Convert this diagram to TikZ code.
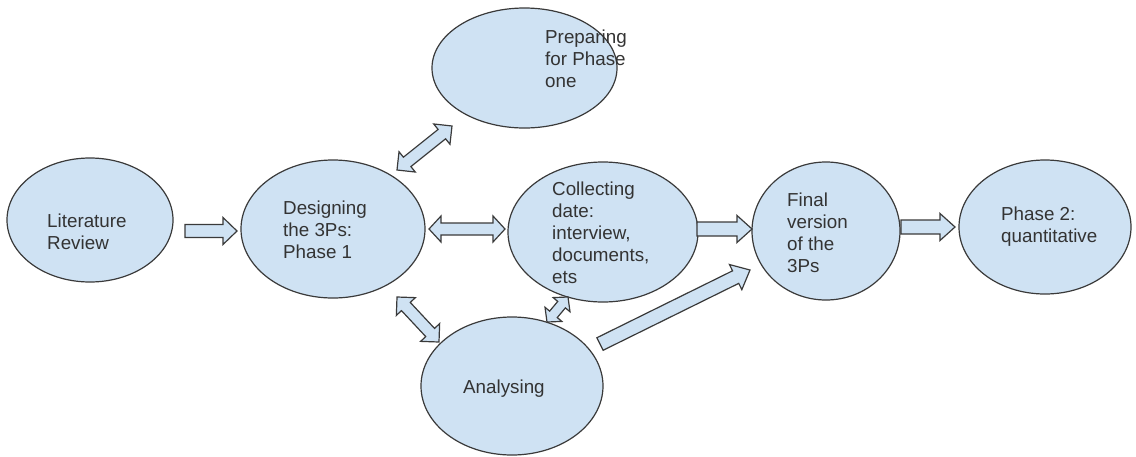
\documentclass[tikz,border=0pt]{standalone}
\usepackage{fontspec}
\setmainfont{Liberation Sans}
\usetikzlibrary{shapes.geometric,calc}
\definecolor{bubblefill}{HTML}{CFE2F3}
\definecolor{edgecol}{HTML}{3A3A3A}
\definecolor{inkcol}{HTML}{333333}
\tikzset{
  bubble/.style={ellipse, draw=edgecol, fill=bubblefill, line width=1.2pt, inner sep=0pt},
  bubbletext/.style={anchor=base west, align=left, inner sep=0pt, text=inkcol,
    font=\fontsize{18.8}{22}\selectfont},
  blockarrow/.style={draw=edgecol, fill=bubblefill, line width=1.2pt, line join=miter},
}
% single block arrow: from, to, shaft half width, head half width, head length
\newcommand\onearrow[5]{%
  \coordinate (hb) at ($(#2)!#5!(#1)$);
  \draw[blockarrow] ($(#1)!#3!90:(#2)$) -- ($(hb)!#3!90:(#2)$) -- ($(hb)!#4!90:(#2)$)
    -- (#2) -- ($(hb)!#4!-90:(#2)$) -- ($(hb)!#3!-90:(#2)$) -- ($(#1)!#3!-90:(#2)$) -- cycle;
}
% double block arrow
\newcommand\twoarrow[5]{%
  \coordinate (hba) at ($(#1)!#5!(#2)$);
  \coordinate (hbb) at ($(#2)!#5!(#1)$);
  \draw[blockarrow] (#1) -- ($(hba)!#4!90:(#2)$) -- ($(hba)!#3!90:(#2)$)
    -- ($(hbb)!#3!90:(#2)$) -- ($(hbb)!#4!90:(#2)$) -- (#2)
    -- ($(hbb)!#4!-90:(#2)$) -- ($(hbb)!#3!-90:(#2)$)
    -- ($(hba)!#3!-90:(#2)$) -- ($(hba)!#4!-90:(#2)$) -- cycle;
}
\begin{document}
\begin{tikzpicture}[x=1pt,y=-1pt]
\useasboundingbox (0,0) rectangle (1136,456);

% bubbles
\node[bubble, minimum width=166pt, minimum height=124pt] (lit)  at (90,220) {};
\node[bubble, minimum width=184pt, minimum height=138pt] (des)  at (333,229) {};
\node[bubble, minimum width=185pt, minimum height=120pt] (prep) at (524.5,68) {};
\node[bubble, minimum width=190pt, minimum height=140pt] (col)  at (603,232) {};
\node[bubble, minimum width=148pt, minimum height=138pt] (fin)  at (826,231) {};
\node[bubble, minimum width=172pt, minimum height=134pt] (ph2)  at (1045,227) {};
\node[bubble, minimum width=182pt, minimum height=138pt] (ana)  at (512,386) {};

% texts (anchored at the baseline of their last line)
\node[bubbletext] (littxt)  at (47,249)  {Literature\\Review};
\node[bubbletext] (destxt)  at (283,258) {Designing\\the 3Ps:\\Phase 1};
\node[bubbletext] (preptxt) at (545,87)  {Preparing\\for Phase\\one};
\node[bubbletext] (coltxt)  at (552,283) {Collecting\\date:\\interview,\\documents,\\ets};
\node[bubbletext] (fintxt)  at (787,272) {Final\\version\\of the\\3Ps};
\node[bubbletext] (ph2txt)  at (1001,242) {Phase 2:\\quantitative};
\node[bubbletext] (anatxt)  at (463,393) {Analysing};

% arrow end points
\coordinate (a1s) at (185,231);  \coordinate (a1e) at (237,231);
\coordinate (a2s) at (429,229);  \coordinate (a2e) at (505,229);
\coordinate (a3s) at (697,229);  \coordinate (a3e) at (752,229);
\coordinate (a4s) at (901,227);  \coordinate (a4e) at (955,227);
\coordinate (a5s) at (397,170);  \coordinate (a5e) at (452,126);
\coordinate (a6s) at (397,297);  \coordinate (a6e) at (439,342);
\coordinate (a7s) at (568,297);  \coordinate (a7e) at (547,322);
\coordinate (a8s) at (600,344);  \coordinate (a8e) at (750,270);

\onearrow{a1s}{a1e}{6.5pt}{13.5pt}{14pt}
\twoarrow{a2s}{a2e}{6pt}{13pt}{12pt}
\onearrow{a3s}{a3e}{7pt}{13.5pt}{15pt}
\onearrow{a4s}{a4e}{7pt}{13.5pt}{15pt}
\twoarrow{a5s}{a5e}{6pt}{13pt}{13pt}
\twoarrow{a6s}{a6e}{6pt}{13pt}{13pt}
\twoarrow{a7s}{a7e}{5pt}{11pt}{10pt}
\onearrow{a8s}{a8e}{7pt}{14pt}{16pt}
\end{tikzpicture}
\end{document}
